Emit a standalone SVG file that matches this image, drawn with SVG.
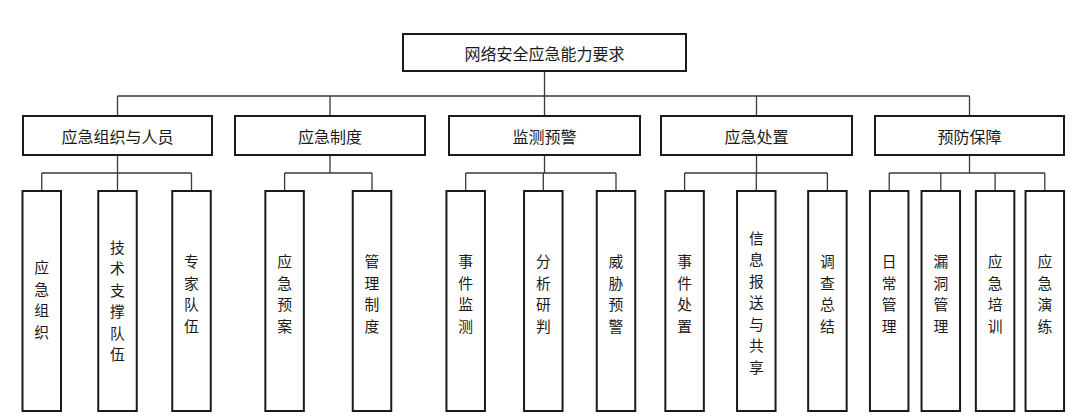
<svg xmlns="http://www.w3.org/2000/svg" width="1080" height="420" viewBox="0 0 1080 420">
<style>
.box{fill:#fff;stroke:#1a1a1a;stroke-width:2}
.ln{fill:none;stroke:#3a3a3a;stroke-width:1.3}
text{font-family:"Noto Sans CJK SC","Liberation Sans",sans-serif;font-size:16px;fill:#1a1a1a;text-anchor:middle;dominant-baseline:central}
.c{font-size:14.8px}
</style>
<rect width="1080" height="420" fill="#fff"/>
<g id="connectors">
<path class="ln" d="M544.5 71V96M117.5 96H969.5M117.5 96V116M330 96V116M544.5 96V116M756.5 96V116M969.5 96V116"/>
<path class="ln" d="M117.5 155V173M41.75 173H191.5M41.75 173V191M117.5 173V191M191.5 173V191"/>
<path class="ln" d="M330 155V173M284.6 173H372M284.6 173V191M372 173V191"/>
<path class="ln" d="M544.5 155V173M465.7 173H616M465.7 173V191M543.3 173V191M616 173V191"/>
<path class="ln" d="M756.5 155V173M684.6 173H827.4M684.6 173V191M756.3 173V191M827.4 173V191"/>
<path class="ln" d="M969.5 155V173M889.2 173H1044.8M889.2 173V191M940.8 173V191M995.1 173V191M1044.8 173V191"/>
</g>
<g id="root"><rect class="box" x="403" y="34" width="283" height="37"/><text x="544.5" y="53">网络安全应急能力要求</text></g>
<g id="n1"><rect class="box" x="23" y="116" width="189" height="39"/><text x="117.5" y="135.5">应急组织与人员</text></g>
<g id="n2"><rect class="box" x="235" y="116" width="190" height="39"/><text x="330" y="135.5">应急制度</text></g>
<g id="n3"><rect class="box" x="449" y="116" width="191" height="39"/><text x="544.5" y="135.5">监测预警</text></g>
<g id="n4"><rect class="box" x="661" y="116" width="191" height="39"/><text x="756.5" y="135.5">应急处置</text></g>
<g id="n5"><rect class="box" x="875" y="116" width="189" height="39"/><text x="969.5" y="135.5">预防保障</text></g>
<g id="n1a"><rect class="box" x="22.5" y="191" width="38.5" height="220"/><text class="c" x="41.75" y="266.3">应</text><text class="c" x="41.75" y="288.1">急</text><text class="c" x="41.75" y="309.9">组</text><text class="c" x="41.75" y="331.7">织</text></g>
<g id="n1b"><rect class="box" x="98.25" y="191" width="38.5" height="220"/><text class="c" x="117.5" y="246.25">技</text><text class="c" x="117.5" y="267.75">术</text><text class="c" x="117.5" y="289.25">支</text><text class="c" x="117.5" y="310.75">撑</text><text class="c" x="117.5" y="332.25">队</text><text class="c" x="117.5" y="353.75">伍</text></g>
<g id="n1c"><rect class="box" x="172.25" y="191" width="38.5" height="220"/><text class="c" x="191.5" y="260.3">专</text><text class="c" x="191.5" y="282.1">家</text><text class="c" x="191.5" y="303.9">队</text><text class="c" x="191.5" y="325.7">伍</text></g>
<g id="n2a"><rect class="box" x="265.35" y="191" width="38.5" height="220"/><text class="c" x="284.6" y="260.3">应</text><text class="c" x="284.6" y="282.1">急</text><text class="c" x="284.6" y="303.9">预</text><text class="c" x="284.6" y="325.7">案</text></g>
<g id="n2b"><rect class="box" x="352.75" y="191" width="38.5" height="220"/><text class="c" x="372" y="260.3">管</text><text class="c" x="372" y="282.1">理</text><text class="c" x="372" y="303.9">制</text><text class="c" x="372" y="325.7">度</text></g>
<g id="n3a"><rect class="box" x="446.45" y="191" width="38.5" height="220"/><text class="c" x="465.7" y="260.3">事</text><text class="c" x="465.7" y="282.1">件</text><text class="c" x="465.7" y="303.9">监</text><text class="c" x="465.7" y="325.7">测</text></g>
<g id="n3b"><rect class="box" x="524.05" y="191" width="38.5" height="220"/><text class="c" x="543.3" y="260.3">分</text><text class="c" x="543.3" y="282.1">析</text><text class="c" x="543.3" y="303.9">研</text><text class="c" x="543.3" y="325.7">判</text></g>
<g id="n3c"><rect class="box" x="596.75" y="191" width="38.5" height="220"/><text class="c" x="616" y="260.3">威</text><text class="c" x="616" y="282.1">胁</text><text class="c" x="616" y="303.9">预</text><text class="c" x="616" y="325.7">警</text></g>
<g id="n4a"><rect class="box" x="665.35" y="191" width="38.5" height="220"/><text class="c" x="684.6" y="260.3">事</text><text class="c" x="684.6" y="282.1">件</text><text class="c" x="684.6" y="303.9">处</text><text class="c" x="684.6" y="325.7">置</text></g>
<g id="n4b"><rect class="box" x="737.05" y="191" width="38.5" height="220"/><text class="c" x="756.3" y="237">信</text><text class="c" x="756.3" y="258.5">息</text><text class="c" x="756.3" y="280">报</text><text class="c" x="756.3" y="301.5">送</text><text class="c" x="756.3" y="323">与</text><text class="c" x="756.3" y="344.5">共</text><text class="c" x="756.3" y="366">享</text></g>
<g id="n4c"><rect class="box" x="808.15" y="191" width="38.5" height="220"/><text class="c" x="827.4" y="260.3">调</text><text class="c" x="827.4" y="282.1">查</text><text class="c" x="827.4" y="303.9">总</text><text class="c" x="827.4" y="325.7">结</text></g>
<g id="n5a"><rect class="box" x="869.95" y="191" width="38.5" height="220"/><text class="c" x="889.2" y="260.3">日</text><text class="c" x="889.2" y="282.1">常</text><text class="c" x="889.2" y="303.9">管</text><text class="c" x="889.2" y="325.7">理</text></g>
<g id="n5b"><rect class="box" x="921.55" y="191" width="38.5" height="220"/><text class="c" x="940.8" y="260.3">漏</text><text class="c" x="940.8" y="282.1">洞</text><text class="c" x="940.8" y="303.9">管</text><text class="c" x="940.8" y="325.7">理</text></g>
<g id="n5c"><rect class="box" x="975.85" y="191" width="38.5" height="220"/><text class="c" x="995.1" y="260.3">应</text><text class="c" x="995.1" y="282.1">急</text><text class="c" x="995.1" y="303.9">培</text><text class="c" x="995.1" y="325.7">训</text></g>
<g id="n5d"><rect class="box" x="1025.55" y="191" width="38.5" height="220"/><text class="c" x="1044.8" y="260.3">应</text><text class="c" x="1044.8" y="282.1">急</text><text class="c" x="1044.8" y="303.9">演</text><text class="c" x="1044.8" y="325.7">练</text></g>
</svg>
